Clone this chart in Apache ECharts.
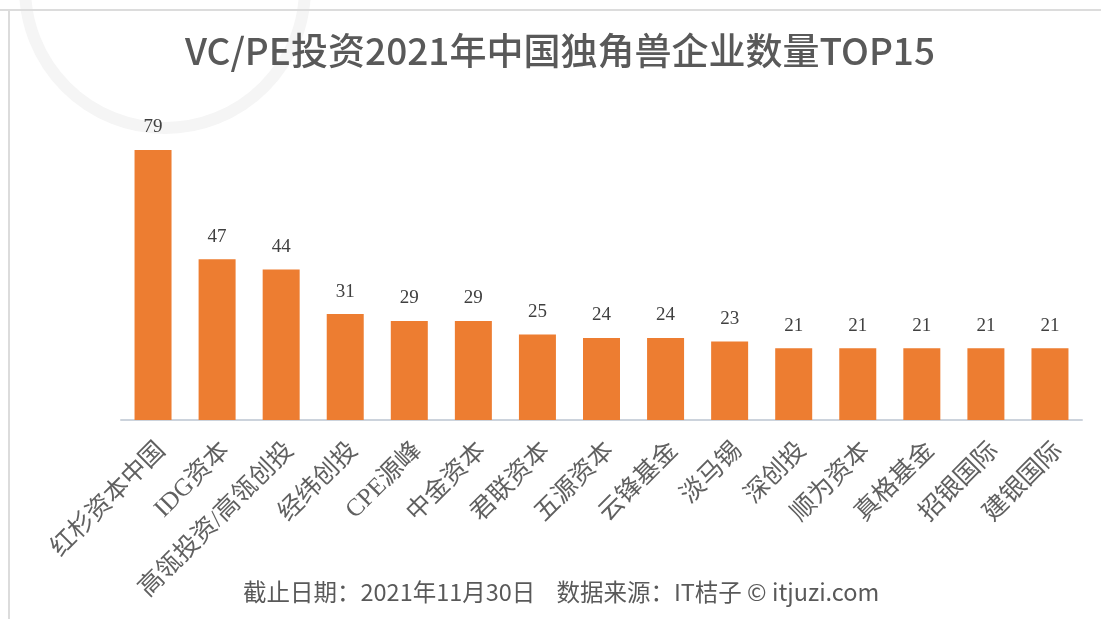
<!DOCTYPE html>
<html>
<head>
<meta charset="utf-8">
<script src="https://cdn.jsdelivr.net/npm/echarts@6/dist/echarts.min.js"></script>
<style>
  html, body { margin: 0; padding: 0; background: #fff; }
  #bar { width: 1101px; height: 619px; }
</style>
</head>
<body>
<div id="bar"></div>
<script>
const categories = ['红杉资本中国', 'IDG资本', '高瓴投资/高瓴创投', '经纬创投', 'CPE源峰', '中金资本', '君联资本',
  '五源资本', '云锋基金', '淡马锡', '深创投', '顺为资本', '真格基金', '招银国际', '建银国际']
const counts = [79, 47, 44, 31, 29, 29, 25, 24, 24, 23, 21, 21, 21, 21, 21]

const serif = '"Liberation Serif", "DejaVu Serif", "Noto Sans CJK SC", serif'
const sans = '"Noto Sans CJK SC", "Noto Sans", sans-serif'

let Bar = echarts.init(document.getElementById('bar'))
let option = {
  backgroundColor: '#fff',
  animation: false,
  title: {
    text: 'VC/PE投资2021年中国独角兽企业数量TOP15',
    left: 555,
    top: 27,
    textAlign: 'center',
    textStyle: {
      color: '#595959',
      fontFamily: sans,
      fontSize: 37,
      fontWeight: 500
    }
  },
  graphic: [
    // 背景水印
    {
      type: 'circle',
      shape: { cx: 165, cy: -12, r: 140 },
      style: { fill: 'none', stroke: '#f5f5f5', lineWidth: 12 },
      z: -10
    },
    // 外框
    {
      type: 'line',
      shape: { x1: 0, y1: 10, x2: 1101, y2: 10 },
      style: { stroke: '#dcdcdc', lineWidth: 2 }
    },
    {
      type: 'line',
      shape: { x1: 9, y1: 10, x2: 9, y2: 619 },
      style: { stroke: '#dcdcdc', lineWidth: 2 }
    },
    {
      type: 'text',
      left: 243,
      top: 580,
      style: {
        text: '截止日期：2021年11月30日    数据来源：IT桔子 © itjuzi.com',
        fill: '#595959',
        font: '23.5px ' + sans
      }
    }
  ],
  grid: {
    left: 121,
    right: 19,
    top: 150,
    bottom: 199
  },
  xAxis: {
    type: 'category',
    data: categories,
    axisLine: {
      lineStyle: { color: '#ccd3dc', width: 2 }
    },
    axisTick: { show: false },
    axisLabel: {
      interval: 0,
      rotate: 45,
      margin: 18,
      verticalAlign: 'top',
      color: '#606060',
      fontFamily: serif,
      fontSize: 25
    }
  },
  yAxis: {
    type: 'value',
    min: 0,
    max: 79,
    show: false,
    splitLine: { show: false }
  },
  series: {
    name: '独角兽企业数量',
    type: 'bar',
    barWidth: 37,
    data: counts,
    itemStyle: { color: '#ed7d31' },
    label: {
      show: true,
      position: 'top',
      distance: 13,
      color: '#404040',
      fontFamily: serif,
      fontSize: 19
    }
  }
}
Bar.setOption(option)
</script>
</body>
</html>
